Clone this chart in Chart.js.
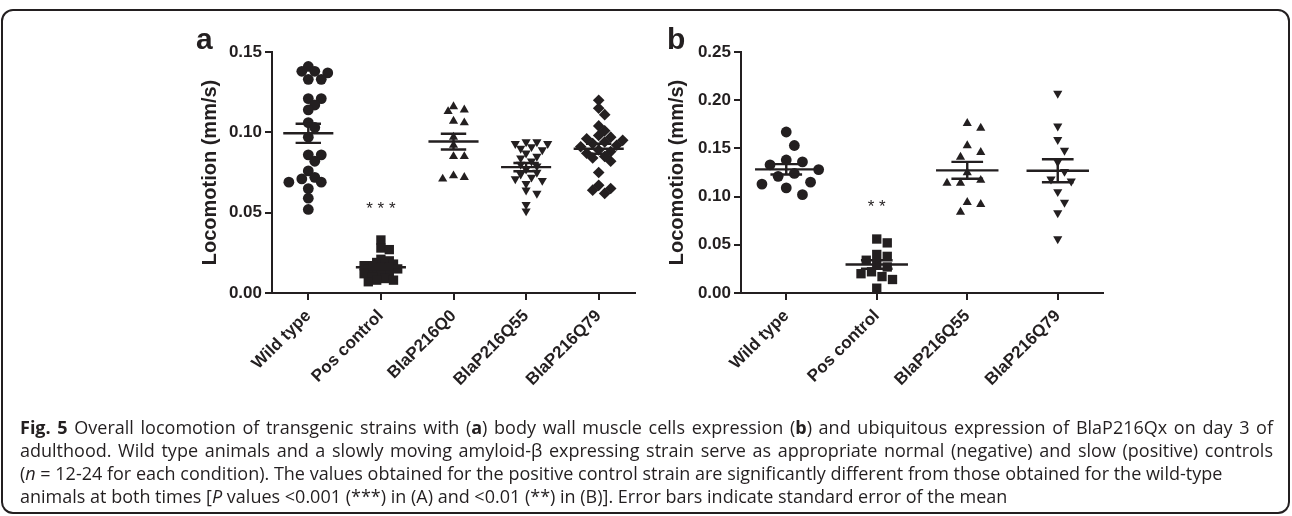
<!DOCTYPE html>
<html>
<head>
<meta charset="utf-8">
<script src="https://cdn.jsdelivr.net/npm/chart.js@4.4.1/dist/chart.umd.min.js"></script>
<style>
  body { margin: 0; background: #fff; width: 1292px; height: 516px; overflow: hidden; position: relative; }
  #frame { position: absolute; left: 1px; top: 9px; width: 1285px; height: 501px; border: 2px solid #231f20; border-radius: 12px; }
  canvas { position: absolute; }
  .tag { position: absolute; font: bold 30px 'Liberation Sans', Arial, sans-serif; color: #231f20; }
  #caption { position: absolute; left: 20px; top: 416px; width: 1253px; font: 18px 'Open Sans', sans-serif; line-height: 23px; color: #231f20; white-space: nowrap; }
  #caption .full { text-align: justify; text-align-last: justify; }
</style>
</head>
<body>
<div id="frame"></div>
<canvas id="chartA" width="460" height="390" style="left:190px;top:30px"></canvas>
<canvas id="chartB" width="460" height="390" style="left:655px;top:30px"></canvas>
<div class="tag" style="left:196px;top:22px">a</div>
<div class="tag" style="left:667px;top:22px">b</div>
<div id="caption">
  <div class="full"><b>Fig. 5</b> Overall locomotion of transgenic strains with (<b>a</b>) body wall muscle cells expression (<b>b</b>) and ubiquitous expression of BlaP216Qx on day 3 of</div>
  <div class="full">adulthood. Wild type animals and a slowly moving amyloid-β expressing strain serve as appropriate normal (negative) and slow (positive) controls</div>
  <div>(<i>n</i> = 12-24 for each condition). The values obtained for the positive control strain are significantly different from those obtained for the wild-type</div>
  <div>animals at both times [<i>P</i> values &lt;0.001 (***) in (A) and &lt;0.01 (**) in (B)]. Error bars indicate standard error of the mean</div>
</div>
<script>
const Chart = window.Chart

// categories and tick labels
const categoriesA = ['Wild type', 'Pos control', 'BlaP216Q0', 'BlaP216Q55', 'BlaP216Q79']
const categoriesB = ['Wild type', 'Pos control', 'BlaP216Q55', 'BlaP216Q79']
const yTicksA = [0, 0.05, 0.10, 0.15]
const yTicksB = [0, 0.05, 0.10, 0.15, 0.20, 0.25]

// panel a: locomotion (mm/s), body wall muscle expression
const wildTypeA = [0.141, 0.138, 0.138, 0.137, 0.133, 0.133, 0.121, 0.121, 0.117, 0.114, 0.106, 0.103,
  0.097, 0.086, 0.086, 0.082, 0.076, 0.071, 0.072, 0.069, 0.069, 0.065, 0.059, 0.052]
const posControlA = [0.033, 0.028, 0.027, 0.021, 0.020, 0.019, 0.018, 0.018, 0.017, 0.017, 0.016, 0.016,
  0.015, 0.015, 0.014, 0.013, 0.012, 0.012, 0.011, 0.010, 0.009, 0.008, 0.008, 0.007]
const q0A = [0.114, 0.113, 0.116, 0.107, 0.106, 0.097, 0.092, 0.085, 0.085, 0.073, 0.071, 0.072]
const q55A = [0.094, 0.094, 0.093, 0.093, 0.091, 0.090, 0.089, 0.087, 0.085, 0.084, 0.082, 0.080,
  0.079, 0.077, 0.075, 0.074, 0.072, 0.071, 0.070, 0.068, 0.064, 0.062, 0.055, 0.051]
const q79A = [0.120, 0.115, 0.111, 0.104, 0.101, 0.098, 0.097, 0.096, 0.095, 0.094, 0.093, 0.092,
  0.091, 0.089, 0.088, 0.087, 0.085, 0.084, 0.082, 0.075, 0.067, 0.065, 0.064, 0.062]

// panel b: locomotion (mm/s), ubiquitous expression
const wildTypeB = [0.167, 0.153, 0.138, 0.136, 0.133, 0.128, 0.124, 0.121, 0.113, 0.115, 0.109, 0.102]
const posControlB = [0.056, 0.052, 0.040, 0.038, 0.034, 0.030, 0.027, 0.022, 0.020, 0.017, 0.014, 0.005]
const q55B = [0.176, 0.171, 0.153, 0.146, 0.141, 0.125, 0.114, 0.114, 0.117, 0.094, 0.092, 0.084]
const q79B = [0.207, 0.173, 0.159, 0.148, 0.136, 0.126, 0.118, 0.116, 0.105, 0.094, 0.083, 0.056]

// significance marks against wild type
const sigA = { category: 1, value: 0.0545, text: '* * *' }
const sigB = { category: 1, value: 0.093, text: '* *' }

const ink = '#231f20'
const axisFont = { family: "'Liberation Sans', Arial, sans-serif", size: 17, weight: 'bold' }

// size is the footprint used when spreading the points
const circle = { style: 'circle', rotation: 0, radius: 5.4, size: 10.8 }
const square = { style: 'rect', rotation: 0, radius: 6.6, size: 7 }
const triUp = { style: 'triangle', rotation: 0, radius: 5.3, size: 9 }
const triDown = { style: 'triangle', rotation: 180, radius: 5.3, size: 9 }
const diamond = { style: 'rectRot', rotation: 0, radius: 5.8, size: 10 }
const markersA = [circle, square, triUp, triDown, diamond]
const markersB = [circle, square, triUp, triDown]

function mean (a) { return a.reduce((s, v) => s + v, 0) / a.length }
function sem (a) {
  const m = mean(a)
  const sd = Math.sqrt(a.reduce((s, v) => s + (v - m) ** 2, 0) / (a.length - 1))
  return sd / Math.sqrt(a.length)
}

// mean line with SEM whiskers
const meanSemPlugin = {
  id: 'meanSem',
  afterDatasetsDraw (chart) {
    const { ctx, scales: { x, y } } = chart
    ctx.save()
    ctx.strokeStyle = ink
    ctx.lineWidth = 2.4
    chart.data.datasets.forEach(ds => {
      const m = mean(ds.values)
      const e = sem(ds.values)
      const ym = y.getPixelForValue(m)
      const yt = y.getPixelForValue(m + e)
      const yb = y.getPixelForValue(m - e)
      const xc = x.getPixelForValue(ds.cat)
      ctx.beginPath()
      ctx.moveTo(x.getPixelForValue(ds.cat - 0.345), ym)
      ctx.lineTo(x.getPixelForValue(ds.cat + 0.345), ym)
      ctx.moveTo(x.getPixelForValue(ds.cat - 0.175), yt)
      ctx.lineTo(x.getPixelForValue(ds.cat + 0.175), yt)
      ctx.moveTo(x.getPixelForValue(ds.cat - 0.175), yb)
      ctx.lineTo(x.getPixelForValue(ds.cat + 0.175), yb)
      ctx.moveTo(xc, yt)
      ctx.lineTo(xc, yb)
      ctx.stroke()
    })
    ctx.restore()
  }
}

const sigPlugin = {
  id: 'sig',
  afterDraw (chart, args, opts) {
    const { ctx, scales: { x, y } } = chart
    ctx.save()
    ctx.fillStyle = ink
    ctx.font = "17px 'Liberation Sans', Arial, sans-serif"
    ctx.textAlign = 'center'
    ctx.textBaseline = 'middle'
    ctx.fillText(opts.text, x.getPixelForValue(opts.category), y.getPixelForValue(opts.value) + 4)
    ctx.restore()
  }
}

// spread points sideways, Prism style
function swarmOffsets (pys, size, stepF, gapF) {
  const order = pys.map((p, i) => i).sort((a, b) => pys[a] - pys[b])
  const placed = []
  const offs = new Array(pys.length).fill(0)
  const step = size * stepF
  const minD = size * gapF
  order.forEach(i => {
    for (let k = 0; k < 60; k++) {
      const dx = (k % 2 ? 1 : -1) * Math.ceil(k / 2) * step
      const ok = placed.every(p => Math.hypot(p.x - dx, p.y - pys[i]) >= minD)
      if (ok) {
        offs[i] = dx
        placed.push({ x: dx, y: pys[i] })
        break
      }
    }
  })
  return offs
}

function makePanel (canvasId, categories, markers, groups, yTicks, sig, yWidth, padRight, titlePad, stepF, gapF) {
  const datasets = groups.map((values, i) => {
    const mk = markers[i]
    return {
      label: categories[i],
      values,
      cat: i,
      size: mk.size,
      data: values.map(v => ({ x: i, y: v })),
      pointStyle: mk.style,
      pointRotation: mk.rotation,
      pointRadius: mk.radius,
      backgroundColor: ink,
      borderWidth: 0
    }
  })

  const chart = new Chart(document.getElementById(canvasId), {
    type: 'scatter',
    data: { datasets },
    options: {
      responsive: false,
      animation: false,
      events: [],
      layout: { padding: { left: 0, right: padRight, top: 22, bottom: 0 } },
      plugins: { legend: { display: false }, tooltip: { enabled: false }, sig },
      scales: {
        x: {
          type: 'linear',
          min: -0.5,
          max: categories.length - 0.5,
          afterBuildTicks: s => { s.ticks = categories.map((c, i) => ({ value: i })) },
          afterFit: s => { s.height = 127 },
          ticks: {
            callback: v => categories[v],
            minRotation: 45,
            maxRotation: 45,
            autoSkip: false,
            color: ink,
            font: axisFont,
            padding: 6
          },
          grid: { drawOnChartArea: false, tickLength: 7, color: ink, lineWidth: 2 },
          border: { color: ink, width: 2 }
        },
        y: {
          min: 0,
          max: yTicks[yTicks.length - 1],
          afterBuildTicks: s => { s.ticks = yTicks.map(v => ({ value: v })) },
          afterFit: s => { s.width = yWidth },
          ticks: { callback: v => v.toFixed(2), color: ink, font: axisFont, padding: 3 },
          grid: { drawOnChartArea: false, tickLength: 7, color: ink, lineWidth: 2 },
          border: { color: ink, width: 2 },
          title: {
            display: true,
            text: 'Locomotion (mm/s)',
            color: ink,
            font: { family: "'Liberation Sans', Arial, sans-serif", size: 20, weight: 'bold' },
            padding: { top: titlePad, bottom: 0 }
          }
        }
      }
    },
    plugins: [meanSemPlugin, sigPlugin]
  })

  // once the scales exist, lay the points out as a swarm
  const sx = chart.scales.x
  const sy = chart.scales.y
  const pxPerUnit = sx.getPixelForValue(1) - sx.getPixelForValue(0)
  chart.data.datasets.forEach(ds => {
    const offs = swarmOffsets(ds.values.map(v => sy.getPixelForValue(v)), ds.size, stepF, gapF)
    ds.data = ds.values.map((v, j) => ({ x: ds.cat + offs[j] / pxPerUnit, y: v }))
  })
  chart.update()
  return chart
}

makePanel('chartA', categoriesA, markersA, [wildTypeA, posControlA, q0A, q55A, q79A], yTicksA, sigA, 82, 15, 8, 0.6, 0.7)
makePanel('chartB', categoriesB, markersB, [wildTypeB, posControlB, q55B, q79B], yTicksB, sigB, 86, 12, 10, 0.75, 1.3)
</script>
</body>
</html>
